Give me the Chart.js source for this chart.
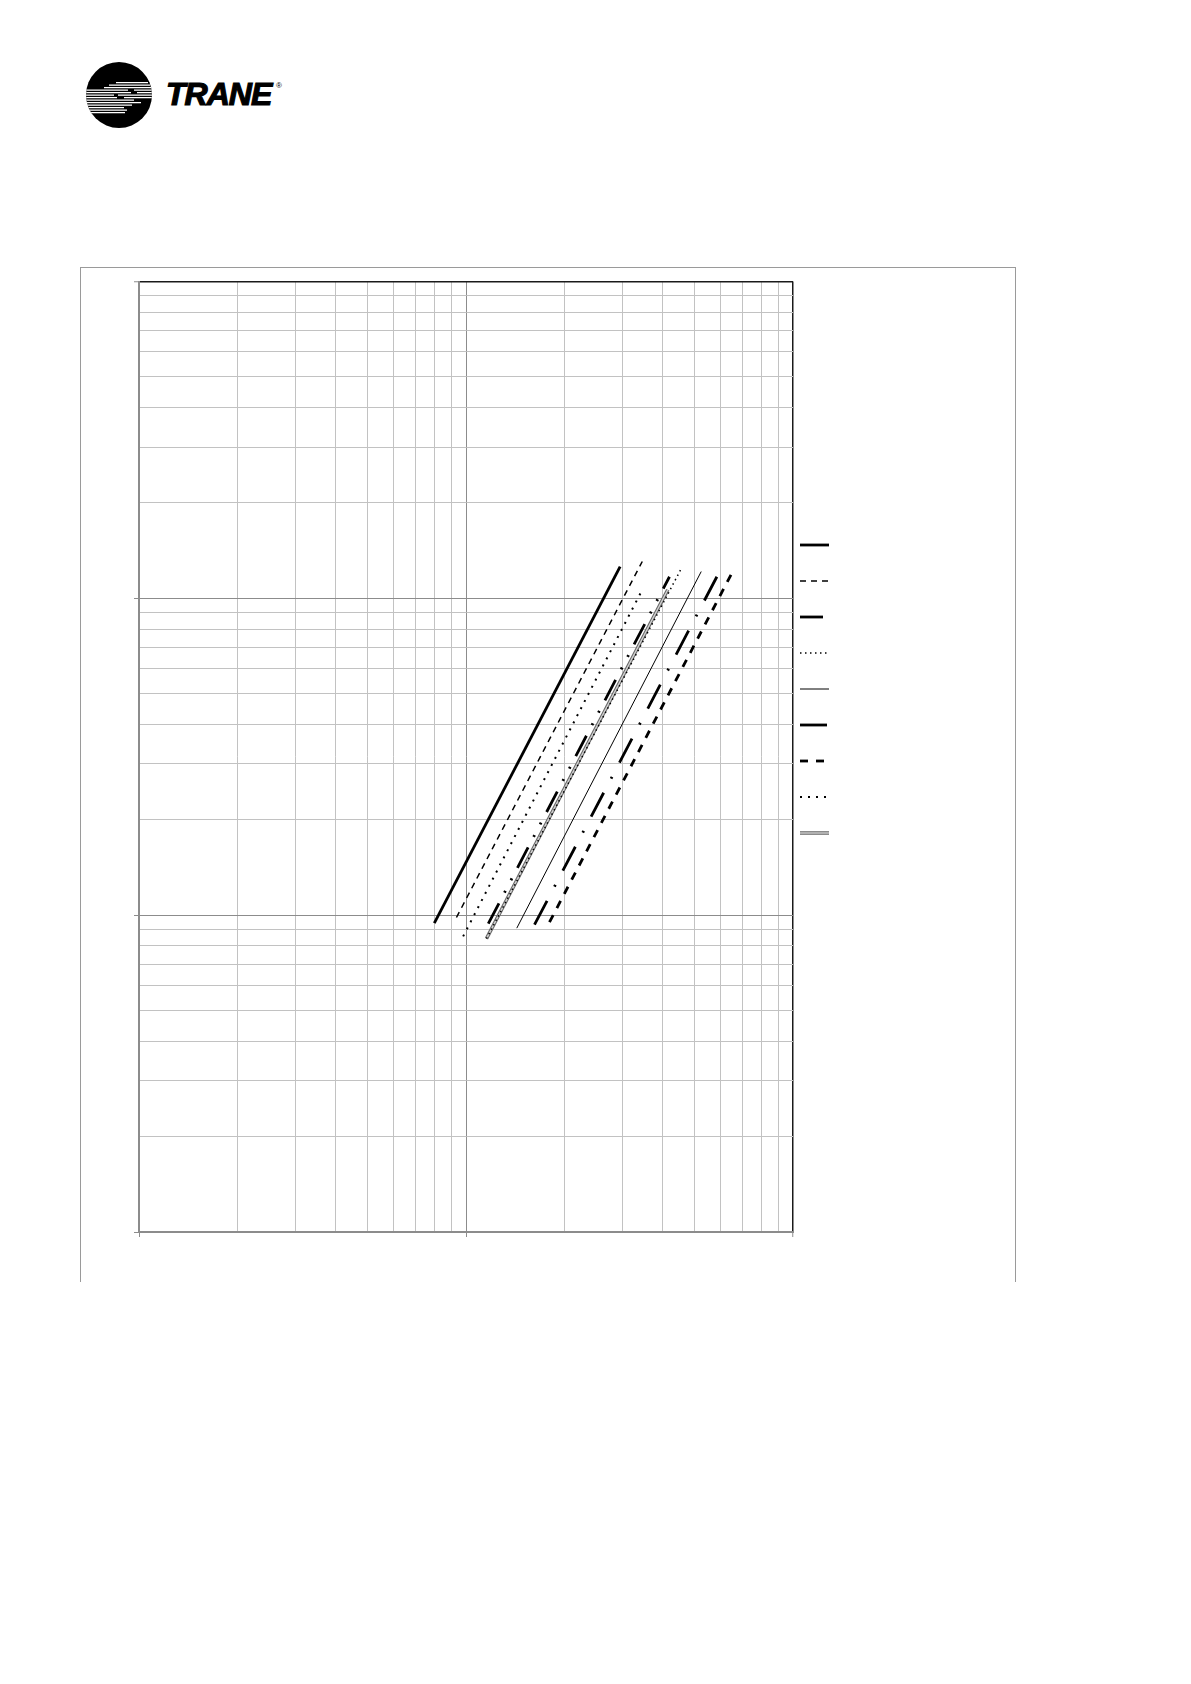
<!DOCTYPE html>
<html lang="en">
<head>
<meta charset="utf-8">
<title>Pressure drop chart</title>
<script src="https://cdn.jsdelivr.net/npm/chart.js@4.4.1/dist/chart.umd.min.js"></script>
<style>
  html, body { margin: 0; padding: 0; background: #fff; }
  body { width: 1191px; height: 1684px; position: relative; overflow: hidden; }
  #logo { position: absolute; left: 0; top: 0; }
  #frame {
    position: absolute; left: 80px; top: 267px; width: 934px; height: 1014px;
    border: 1px solid #9a9a9a; border-bottom: none;
  }
  #chart { position: absolute; left: 129px; top: 136px; }
</style>
</head>
<body>

<svg id="logo" width="300" height="140" viewBox="0 0 300 140">
  <defs><clipPath id="disc"><circle cx="119" cy="95" r="33"/></clipPath></defs>
  <circle cx="119" cy="95" r="33" fill="#000"/>
  <g clip-path="url(#disc)" stroke="#fff" stroke-width="1.2">
    <path d="M116 82.7H148 M109 85.2H150 M104 87.7H151
             M84 90.2H128 M134 90.2H153
             M84 92.7H131 M137 92.7H153
             M84 95.2H114 M118 95.2H153
             M84 97.7H117 M124 97.7H153
             M84 100.2H134 M84 102.7H141 M84 105.2H132
             M84 107.7H124 M84 110.2H127 M84 112.7H125"/>
  </g>
  <text x="166" y="105" font-family="Liberation Sans, Arial, sans-serif" font-weight="bold"
        font-style="italic" font-size="32" letter-spacing="-1" stroke="#000" stroke-width="1.2">TRANE</text>
  <text x="276" y="88" font-family="Liberation Sans, Arial, sans-serif" font-size="8">®</text>
</svg>

<div id="frame"></div>
<canvas id="chart" width="704" height="1106"></canvas>

<script>
/* ---- values (log-log, 2 x 3 decades) ---- */
const xGrid = [1, 2, 3, 4, 5, 6, 7, 8, 9, 10, 20, 30, 40, 50, 60, 70, 80, 90, 100];
const yGrid = [1, 2, 3, 4, 5, 6, 7, 8, 9, 10, 20, 30, 40, 50, 60, 70, 80, 90,
               100, 200, 300, 400, 500, 600, 700, 800, 900, 1000];

// each curve is a straight line on log-log paper: start and end point
const startFlow = [8.0, 9.35, 11.7, 11.55, 14.3, 16.2, 18.0, 9.8, 11.55];
const startDrop = [9.44, 9.83, 9.4, 8.43, 9.1, 9.33, 9.5, 8.57, 8.43];
const endFlow   = [29.6, 34.6, 41.9, 45.6, 52.4, 58.5, 66.2, 34.6, 41.4];
const endDrop   = [126, 130.7, 117, 124.5, 121.5, 117, 124.5, 106.4, 106.4];

/* ---- line styles, same order as the legend ---- */
const seriesStyles = [
  { color: '#000', width: 2.8, dash: [] },                      // thick solid
  { color: '#000', width: 1.5, dash: [6, 5] },                  // dashed
  { color: '#000', width: 2.8, dash: [23, 12, 2, 12, 2, 12] },  // dash dot dot
  { color: '#000', width: 1.5, dash: [1.5, 3.5] },              // dense dots
  { color: '#000', width: 1,   dash: [] },                      // thin solid
  { color: '#000', width: 2.8, dash: [27, 16, 2, 16] },         // dash dot
  { color: '#000', width: 2.8, dash: [8, 8] },                  // heavy dashes
  { color: '#000', width: 2,   dash: [2, 6] },                  // sparse dots
  { color: '#666', width: 3.5, dash: [] }                       // double (grey) line
];

(function() {
  'use strict';

  const isDecade = v => Math.abs(Math.log10(v) - Math.round(Math.log10(v))) < 1e-9;

  const datasets = seriesStyles.map((s, i) => ({
    label: '',
    data: [
      { x: startFlow[i], y: startDrop[i] },
      { x: endFlow[i],   y: endDrop[i] }
    ],
    showLine: true,
    pointRadius: 0,
    fill: false,
    borderColor: s.color,
    backgroundColor: s.color,
    borderWidth: s.width,
    borderDash: s.dash,
    borderCapStyle: 'butt'
  }));

  // legend with line samples that keep the dash pattern
  function legendLabels(chart) {
    const items = Chart.defaults.plugins.legend.labels.generateLabels(chart);
    return items.map(item => {
      const ds = chart.data.datasets[item.datasetIndex];
      return Object.assign(item, {
        text: '',
        strokeStyle: ds.borderColor,
        fillStyle: 'rgba(0,0,0,0)',
        lineWidth: ds.borderWidth,
        lineDash: ds.borderDash,
        lineCap: 'butt'
      });
    });
  }

  // light core for the "double" grey line, in the plot and in the legend
  const doubleLine = {
    id: 'doubleLine',
    afterDatasetDraw(chart, args, opts) {
      if (args.index !== opts.index) return;
      const pts = args.meta.data;
      const ctx = chart.ctx;
      ctx.save();
      ctx.strokeStyle = opts.color;
      ctx.lineWidth = opts.width;
      ctx.beginPath();
      pts.forEach((p, i) => i ? ctx.lineTo(p.x, p.y) : ctx.moveTo(p.x, p.y));
      ctx.stroke();
      ctx.restore();
    },
    afterDraw(chart, args, opts) {
      const box = chart.legend && chart.legend.legendHitBoxes[opts.index];
      if (!box) return;
      const half = chart.legend.options.labels.font.size / 2;
      const w = chart.legend.options.labels.pointStyleWidth;
      const ctx = chart.ctx;
      ctx.save();
      ctx.strokeStyle = opts.color;
      ctx.lineWidth = opts.width;
      ctx.beginPath();
      ctx.moveTo(box.left, box.top + half);
      ctx.lineTo(box.left + w, box.top + half);
      ctx.stroke();
      ctx.restore();
    }
  };

  const gridTicks = values => scale => { scale.ticks = values.map(v => ({ value: v })); };

  const gridColor = maxVal => ctx => {
    const v = ctx.tick.value;
    if (v === maxVal) return '#1a1a1a';
    return isDecade(v) ? '#8c8c8c' : '#c2c2c2';
  };
  const gridWidth = maxVal => ctx => (ctx.tick.value === maxVal ? 1.5 : 1);
  const tickColor = ctx => (isDecade(ctx.tick.value) ? '#8c8c8c' : 'rgba(0,0,0,0)');

  new Chart(document.getElementById('chart'), {
    type: 'scatter',
    data: { datasets },
    plugins: [doubleLine],
    options: {
      responsive: false,
      animation: false,
      events: [],
      layout: { padding: 0 },
      plugins: {
        // empty title only reserves the room above the plot
        title: { display: true, text: '', font: { size: 10 }, padding: { top: 133.5, bottom: 0 } },
        legend: {
          position: 'right',
          align: 'center',
          maxWidth: 40,
          labels: {
            usePointStyle: true,
            pointStyle: 'line',
            pointStyleWidth: 29,
            font: { size: 29 },
            padding: 7,
            generateLabels: legendLabels
          }
        },
        tooltip: { enabled: false },
        doubleLine: { index: 8, color: '#d2d2d2', width: 1.4 }
      },
      scales: {
        x: {
          type: 'logarithmic',
          min: 1, max: 100,
          afterBuildTicks: gridTicks(xGrid),
          afterFit: s => { s.height = 10; },
          ticks: { display: false },
          grid: {
            color: gridColor(100), lineWidth: gridWidth(100),
            tickColor: tickColor, tickLength: 5, tickWidth: 1
          },
          border: { color: '#8c8c8c', width: 2 }
        },
        y: {
          type: 'logarithmic',
          min: 1, max: 1000,
          afterBuildTicks: gridTicks(yGrid),
          afterFit: s => { s.width = 10; },
          ticks: { display: false },
          grid: {
            color: gridColor(1000), lineWidth: gridWidth(1000),
            tickColor: tickColor, tickLength: 5, tickWidth: 1
          },
          border: { color: '#8c8c8c', width: 2 }
        }
      }
    }
  });
})();
</script>
</body>
</html>
